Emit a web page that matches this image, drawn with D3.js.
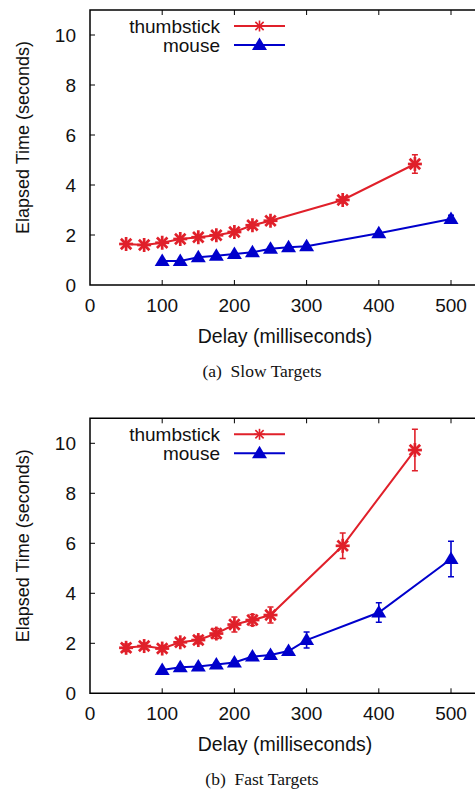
<!DOCTYPE html>
<html>
<head>
<meta charset="utf-8">
<script src="https://cdn.jsdelivr.net/npm/d3@7"></script>
<style>
  body { margin: 0; background: #fff; }
  svg { display: block; }
  .tickLabel, .axisLabel, .legendText { font-family: "Liberation Sans", Arial, sans-serif; fill: #111; }
  .caption { font-family: "Liberation Serif", "DejaVu Serif", serif; fill: #111; white-space: pre; }
</style>
</head>
<body>
<div id="chart"></div>
<script>
// ---- data ----
var xTicks = [0, 100, 200, 300, 400, 500];
var yTicks = [0, 2, 4, 6, 8, 10];
var seriesNames = ['thumbstick', 'mouse'];

var thumbDelay = [50, 75, 100, 125, 150, 175, 200, 225, 250, 350, 450];
var mouseDelay = [100, 125, 150, 175, 200, 225, 250, 275, 300, 400, 500];

// (a) slow targets
var slowThumb    = [1.64, 1.60, 1.69, 1.84, 1.91, 1.99, 2.12, 2.39, 2.57, 3.40, 4.84];
var slowThumbErr = [0.08, 0.07, 0.07, 0.08, 0.08, 0.08, 0.09, 0.12, 0.10, 0.12, 0.37];
var slowMouse    = [0.96, 0.96, 1.11, 1.17, 1.24, 1.31, 1.45, 1.51, 1.55, 2.07, 2.64];
var slowMouseErr = [0.05, 0.05, 0.05, 0.05, 0.05, 0.05, 0.05, 0.05, 0.06, 0.08, 0.15];

// (b) fast targets
var fastThumb    = [1.82, 1.89, 1.79, 2.04, 2.13, 2.39, 2.75, 2.93, 3.13, 5.90, 9.73];
var fastThumbErr = [0.15, 0.12, 0.12, 0.12, 0.15, 0.20, 0.30, 0.22, 0.32, 0.51, 0.83];
var fastMouse    = [0.93, 1.04, 1.07, 1.15, 1.23, 1.47, 1.53, 1.69, 2.13, 3.23, 5.37];
var fastMouseErr = [0.05, 0.06, 0.06, 0.06, 0.06, 0.07, 0.07, 0.08, 0.32, 0.39, 0.71];

var captions = ['(a)  Slow Targets', '(b)  Fast Targets'];

// ---- layout ----
const width = 475, height = 794;
const red = '#e0202a', blue = '#0000cc';
const margin = {left: 90, top: 10};
const plotH = 275;
const xMax = 550;
const panelOffset = [0, 408.3];

var svg = d3.select('#chart').append('svg')
  .attr('width', width)
  .attr('height', height);

var x = d3.scaleLinear().domain([0, xMax]).range([margin.left, margin.left + 72.2 * xMax / 100]);
var y = d3.scaleLinear().domain([0, 11]).range([margin.top + plotH, margin.top]);

function makeSeries(delays, vals, errs) {
  return delays.map(function(d, i) { return {x: d, y: vals[i], e: errs[i]}; });
}

// 星號 marker
function star(g, cx, cy, r, color, sw) {
  var k = r * 0.75;
  [[-r, 0, r, 0], [0, -r, 0, r], [-k, -k, k, k], [-k, k, k, -k]].forEach(function(s) {
    g.append('line')
      .attr('x1', cx + s[0]).attr('y1', cy + s[1])
      .attr('x2', cx + s[2]).attr('y2', cy + s[3])
      .attr('stroke', color).attr('stroke-width', sw);
  });
}
// 三角形 marker
function tri(g, cx, cy, color) {
  g.append('path')
    .attr('d', `M${cx},${cy - 7.5}L${cx + 7.5},${cy + 5}L${cx - 7.5},${cy + 5}Z`)
    .attr('fill', color);
}

function drawPanel(idx, thumb, mouse) {
  var g = svg.append('g').attr('transform', `translate(0, ${panelOffset[idx]})`);
  var y0 = y(0), yTop = y(11);

  // border (right side runs off the page)
  g.append('path')
    .attr('d', `M${x(xMax)},${yTop}H${x(0)}V${y0}H${x(xMax)}`)
    .attr('fill', 'none').attr('stroke', '#000').attr('stroke-width', 1.5);

  // x ticks, bottom + mirrored top
  xTicks.forEach(function(t) {
    if (t > 0) {
      g.append('line').attr('x1', x(t)).attr('x2', x(t)).attr('y1', y0).attr('y2', y0 - 5)
        .attr('stroke', '#000').attr('stroke-width', 1);
      g.append('line').attr('x1', x(t)).attr('x2', x(t)).attr('y1', yTop).attr('y2', yTop + 5)
        .attr('stroke', '#000').attr('stroke-width', 1);
    }
    g.append('text').attr('class', 'tickLabel')
      .attr('x', x(t)).attr('y', y0 + 27)
      .attr('text-anchor', 'middle').style('font-size', '19px')
      .text(t);
  });
  // y ticks
  yTicks.forEach(function(t) {
    if (t > 0)
      g.append('line').attr('x1', x(0)).attr('x2', x(0) + 5).attr('y1', y(t)).attr('y2', y(t))
        .attr('stroke', '#000').attr('stroke-width', 1);
    g.append('text').attr('class', 'tickLabel')
      .attr('x', 76).attr('y', y(t) + 7)
      .attr('text-anchor', 'end').style('font-size', '19px')
      .text(t);
  });

  // axis labels
  g.append('text').attr('class', 'axisLabel')
    .attr('x', 285).attr('y', y0 + 58)
    .attr('text-anchor', 'middle').style('font-size', '19.5px')
    .text('Delay (milliseconds)');
  g.append('text').attr('class', 'axisLabel')
    .attr('transform', `translate(29, ${(y0 + yTop) / 2 - 10}) rotate(-90)`)
    .attr('text-anchor', 'middle').style('font-size', '18px')
    .text('Elapsed Time (seconds)');

  // caption
  g.append('text').attr('class', 'caption')
    .attr('x', 262).attr('y', y0 + 92)
    .attr('text-anchor', 'middle').style('font-size', '17.5px')
    .text(captions[idx]);

  var line = d3.line().x(d => x(d.x)).y(d => y(d.y));
  [[thumb, red, 'star'], [mouse, blue, 'tri']].forEach(function(s) {
    var data = s[0], color = s[1];
    g.append('path').datum(data)
      .attr('d', line)
      .attr('fill', 'none').attr('stroke', color).attr('stroke-width', 2);
    // error bars
    data.forEach(function(d) {
      var ya = y(d.y + d.e), yb = y(d.y - d.e);
      g.append('path')
        .attr('d', `M${x(d.x)},${ya}V${yb}M${x(d.x) - 3},${ya}H${x(d.x) + 3}M${x(d.x) - 3},${yb}H${x(d.x) + 3}`)
        .attr('fill', 'none').attr('stroke', color).attr('stroke-width', 1.6);
    });
    data.forEach(function(d) {
      if (s[2] == 'star') star(g, x(d.x), y(d.y), 7, color, 2.7);
      else tri(g, x(d.x), y(d.y), color);
    });
  });

  // legend
  var ly = [yTop + 16, yTop + 35];
  seriesNames.forEach(function(name, i) {
    var color = i == 0 ? red : blue;
    g.append('text').attr('class', 'legendText')
      .attr('x', 220).attr('y', ly[i] + 6.5)
      .attr('text-anchor', 'end').style('font-size', '19px')
      .text(name);
    g.append('line').attr('x1', 234).attr('x2', 285).attr('y1', ly[i]).attr('y2', ly[i])
      .attr('stroke', color).attr('stroke-width', 2);
    if (i == 0) star(g, 259.5, ly[i], 5.5, color, 1.6);
    else tri(g, 259.5, ly[i], color);
  });
}

drawPanel(0, makeSeries(thumbDelay, slowThumb, slowThumbErr), makeSeries(mouseDelay, slowMouse, slowMouseErr));
drawPanel(1, makeSeries(thumbDelay, fastThumb, fastThumbErr), makeSeries(mouseDelay, fastMouse, fastMouseErr));
</script>
</body>
</html>
